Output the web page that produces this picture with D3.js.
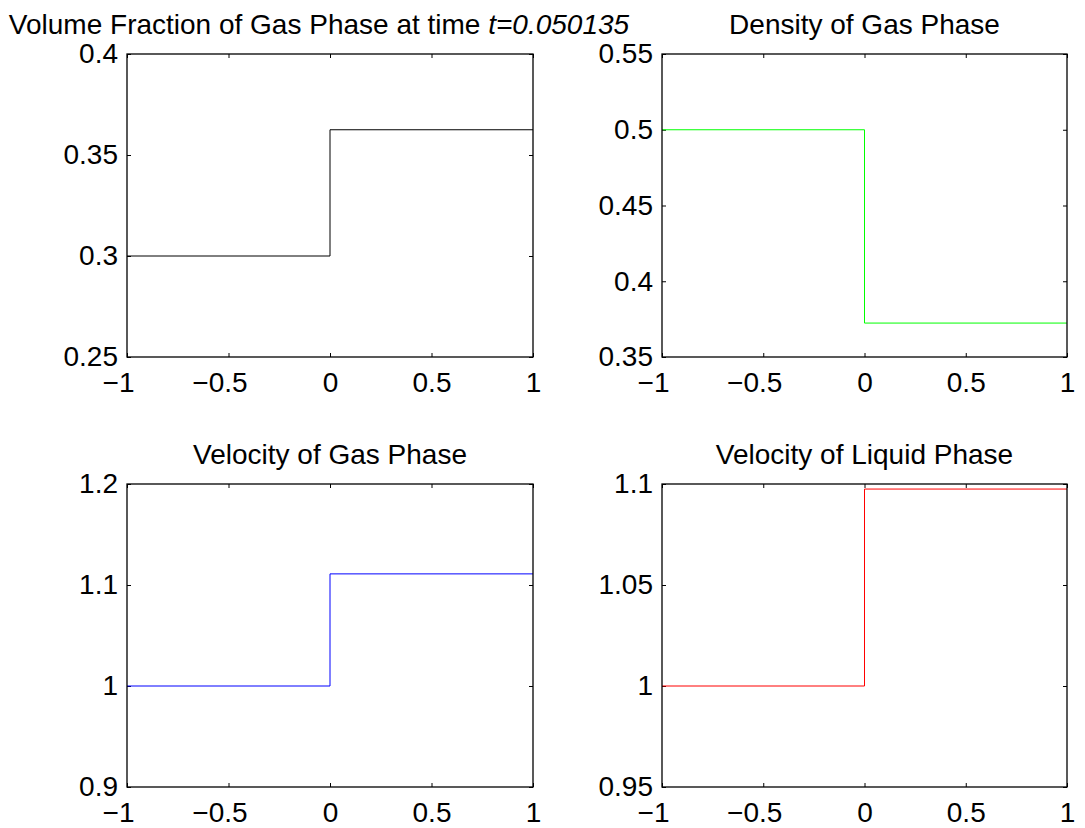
<!DOCTYPE html>
<html>
<head>
<meta charset="utf-8">
<script src="https://cdn.jsdelivr.net/npm/d3@7"></script>
<style>
body { margin: 0; background: #fff; }
.font { font-family: "Liberation Sans", Arial, sans-serif; fill: #000; }
.tick-label { font-size: 28px; }
.title { font-size: 28px; }
</style>
</head>
<body>
<svg id="chart" width="1085" height="828"></svg>
<script>
const SVG_WIDTH = 1085;
const SVG_HEIGHT = 828;

// step profiles: value left of x=0, value right of x=0
const X_DOMAIN = [-1, 1];
const X_TICKS = [-1, -0.5, 0, 0.5, 1];
const stepX = [-1, 0, 0, 1];

const volFracValues = [0.3, 0.3, 0.3625, 0.3625];
const volFracTicks = [0.25, 0.3, 0.35, 0.4];

const densityValues = [0.5, 0.5, 0.3724, 0.3724];
const densityTicks = [0.35, 0.4, 0.45, 0.5, 0.55];

const gasVelValues = [1, 1, 1.111, 1.111];
const gasVelTicks = [0.9, 1, 1.1, 1.2];

const liqVelValues = [1, 1, 1.0975, 1.0975];
const liqVelTicks = [0.95, 1, 1.05, 1.1];

const panels = [
    {title: "Volume Fraction of Gas Phase at time ", titleItalic: "t=0.050135",
     values: volFracValues, ticks: volFracTicks, color: "#000000",
     left: 127, right: 533, top: 54, bottom: 357, titleShift: -11},
    {title: "Density of Gas Phase", values: densityValues, ticks: densityTicks,
     color: "#00ff00", left: 662, right: 1067, top: 54, bottom: 357},
    {title: "Velocity of Gas Phase", values: gasVelValues, ticks: gasVelTicks,
     color: "#0000ff", left: 127, right: 533, top: 484, bottom: 787},
    {title: "Velocity of Liquid Phase", values: liqVelValues, ticks: liqVelTicks,
     color: "#ff0000", left: 662, right: 1067, top: 484, bottom: 787}
];

var svg = d3.select("#chart");
svg.append("rect")
    .attr("width", SVG_WIDTH)
    .attr("height", SVG_HEIGHT)
    .attr("fill", "#fff");

function fmt(d) {
    var s = d3.format("")(d);
    return s.replace("-", "\u2212");
}

panels.forEach(function(p) {
    var tl = p.ticks;
    var xScale = d3.scaleLinear().domain(X_DOMAIN).range([p.left, p.right]);
    var yScale = d3.scaleLinear()
        .domain([tl[0], tl[tl.length - 1]])
        .range([p.bottom, p.top]);
    var g = svg.append("g");

    // inward ticks on all four sides, MATLAB box style
    var tickLen = 4;
    var axes = [
        {axis: d3.axisBottom(xScale).tickValues(X_TICKS).tickFormat(fmt), y: p.bottom, x: 0, kind: "x"},
        {axis: d3.axisTop(xScale).tickValues(X_TICKS).tickFormat(""), y: p.top, x: 0},
        {axis: d3.axisLeft(yScale).tickValues(tl).tickFormat(fmt), y: 0, x: p.left, kind: "y"},
        {axis: d3.axisRight(yScale).tickValues(tl).tickFormat(""), y: 0, x: p.right}
    ];
    axes.forEach(function(a) {
        a.axis.tickSizeInner(-tickLen).tickSizeOuter(0);
        var ag = g.append("g")
            .attr("transform", "translate(" + a.x + "," + a.y + ")")
            .call(a.axis);
        ag.select(".domain").remove();
        ag.selectAll("line").attr("stroke", "#000").attr("stroke-width", 1);
        ag.attr("font-family", null).attr("font-size", null);
        var labels = ag.selectAll("text").classed("font tick-label", true);
        if (a.kind === "x") {
            labels.attr("y", 15)
                .attr("dx", function(d) { return d < 0 ? -9 : 0; });
        } else if (a.kind === "y") {
            labels.attr("x", -9);
        }
    });

    var line = d3.line()
        .x(function(d, i) { return xScale(stepX[i]); })
        .y(function(d) { return yScale(d); });
    g.append("path")
        .datum(p.values)
        .attr("d", line)
        .attr("fill", "none")
        .attr("stroke", p.color)
        .attr("stroke-width", 1);

    g.append("rect")
        .attr("x", p.left)
        .attr("y", p.top)
        .attr("width", p.right - p.left)
        .attr("height", p.bottom - p.top)
        .attr("fill", "none")
        .attr("stroke", "#000")
        .attr("stroke-width", 1.3);

    var title = g.append("text")
        .classed("font title", true)
        .attr("x", (p.left + p.right) / 2 + (p.titleShift || 0))
        .attr("y", p.top - 20)
        .attr("text-anchor", "middle")
        .text(p.title);
    if (p.titleItalic) {
        title.append("tspan")
            .attr("font-style", "italic")
            .text(p.titleItalic);
    }
});
</script>
</body>
</html>
